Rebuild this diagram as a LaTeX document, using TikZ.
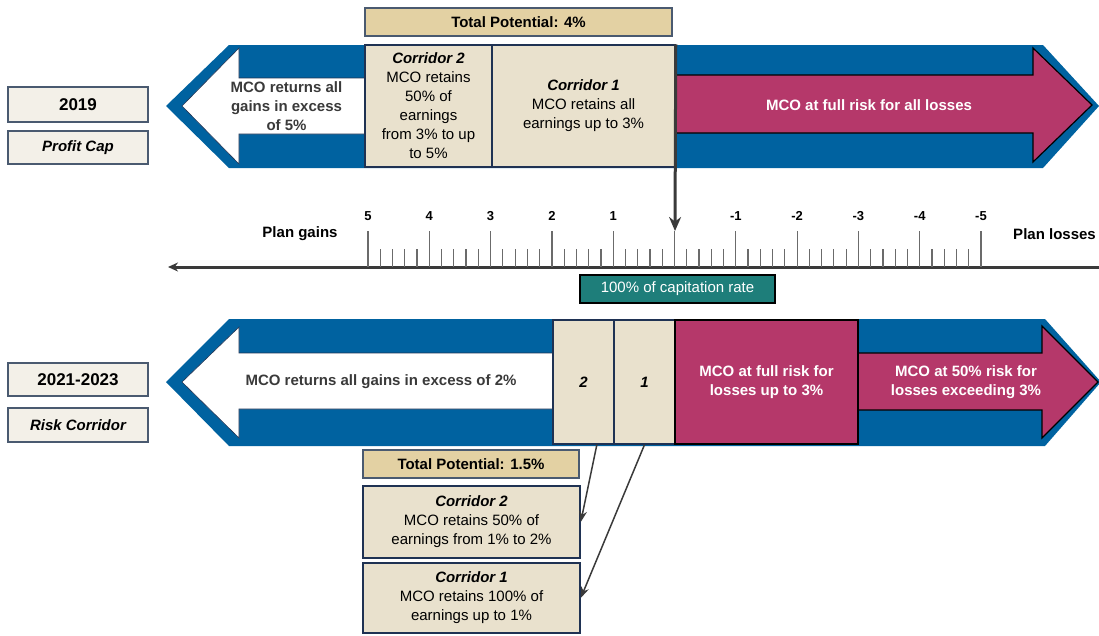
\documentclass[tikz,border=0pt]{standalone}
\usepackage{fontspec}
\setmainfont{Liberation Sans}
\usepackage{tikz}
\usetikzlibrary{arrows.meta}
\usetikzlibrary{positioning}

\definecolor{bandblue}{HTML}{0062A0}
\definecolor{riskred}{HTML}{B5386A}
\definecolor{corrfill}{HTML}{E9E1CD}
\definecolor{totalfill}{HTML}{E3D1A3}
\definecolor{yearfill}{HTML}{F3F0E8}
\definecolor{boxline}{HTML}{1F3253}
\definecolor{slate}{HTML}{4A5A70}
\definecolor{capteal}{HTML}{1E7E7A}
\definecolor{inkgray}{HTML}{3A3A3A}

\newcommand{\diagfont}{\fontsize{15}{19}\selectfont}
\newcommand{\yearfont}{\fontsize{17}{20}\selectfont}
\newcommand{\tickfont}{\fontsize{13}{15}\selectfont}

\tikzstyle{pointer} = [line width=1.5pt, draw=inkgray, -{Stealth[length=11pt,width=8pt]}]
\tikzstyle{yearbox} = [draw=slate, fill=yearfill, line width=1.5pt, minimum width=140pt, inner sep=0pt, font=\diagfont\bfseries]
\tikzstyle{corrbox} = [draw=boxline, fill=corrfill, line width=1.5pt, inner sep=0pt, align=center, font=\diagfont]
\tikzstyle{totalbox} = [draw=slate, fill=totalfill, line width=1.5pt, minimum height=28pt, inner sep=0pt, font=\diagfont\bfseries]
\tikzstyle{riskbox} = [draw=black, fill=riskred, line width=2pt, inner sep=0pt, align=center, text=white, font=\diagfont\bfseries]
\tikzstyle{risktext} = [align=center, text=white, font=\diagfont\bfseries]
\tikzstyle{gaintext} = [align=center, text=inkgray, font=\diagfont\bfseries]
\tikzstyle{ticklabel} = [font=\tickfont\bfseries]

\begin{document}
\begin{tikzpicture}[x=1pt,y=-1pt]
\useasboundingbox (0,0) rectangle (1099,635);

% Bands
\fill[bandblue] (166,106) -- (229,45) -- (1043,45) -- (1099,106) -- (1043,168) -- (229,168) -- cycle;
\fill[bandblue] (166,382) -- (229,319) -- (1045,319) -- (1101,382) -- (1045,446) -- (229,446) -- cycle;

% Arrows inside the bands
\filldraw[fill=white, draw=boxline, line width=0.6pt] (182,106) -- (239,48) -- (239,78) -- (365,78) -- (365,134) -- (239,134) -- (239,164) -- cycle;
\filldraw[fill=riskred, draw=black, line width=1.2pt] (675,75) -- (1033,75) -- (1033,48) -- (1092,105) -- (1033,162) -- (1033,133) -- (675,133);
\filldraw[fill=white, draw=boxline, line width=0.6pt] (182,382) -- (239,327) -- (239,353) -- (553,353) -- (553,409) -- (239,409) -- (239,438) -- cycle;
\filldraw[fill=riskred, draw=black, line width=1.2pt] (858,353) -- (1042,353) -- (1042,326) -- (1098,382) -- (1042,438) -- (1042,410) -- (858,410);

% Nodes: 2019
\node[yearbox, minimum height=35pt, font=\yearfont\bfseries] (y19) at (78,104.5) {2019};
\node[yearbox, minimum height=33pt] (pcap) at (78,147.5) {\itshape Profit Cap};
\node[totalbox, minimum width=307pt] (tp4) at (518.5,22) {Total Potential: 4\%};
\node[gaintext] (ret5) at (286.5,106) {MCO returns all\\gains in excess\\of 5\%};
\node[corrbox, minimum width=127pt, minimum height=122pt] (c2top) at (428.5,106) {\textbf{\textit{Corridor 2}}\\MCO retains\\50\% of\\earnings\\from 3\% to up\\to 5\%};
\node[corrbox, minimum width=183pt, minimum height=122pt] (c1top) at (583.5,106) {\textbf{\textit{Corridor 1}}\\MCO retains all\\earnings up to 3\%};
\node[risktext] (loss19) at (869,105) {MCO at full risk for all losses};

% Nodes: scale
\node[font=\diagfont\bfseries] (gains) at (300,234) {Plan gains};
\node[font=\diagfont\bfseries] (losses) at (1054.5,234) {Plan losses};
\node[draw=black, fill=capteal, line width=2pt, minimum width=195pt, minimum height=28pt, inner sep=0pt, text=white, font=\diagfont] (cap) at (677.5,289) {100\% of capitation rate};
\coordinate (zero) at (675,231);

% Nodes: 2021-2023
\node[yearbox, minimum height=33pt, font=\yearfont\bfseries] (y21) at (78,379.5) {2021-2023};
\node[yearbox, minimum height=34pt] (rcor) at (78,425) {\itshape Risk Corridor};
\node[gaintext] (ret2) at (381,382) {MCO returns all gains in excess of 2\%};
\node[corrbox, minimum width=61pt, minimum height=124pt] (b2) at (583.5,382) {\textbf{\textit{2}}};
\node[corrbox, minimum width=61pt, minimum height=124pt] (b1) at (644.5,382) {\textbf{\textit{1}}};
\node[riskbox, minimum width=183pt, minimum height=124pt] (full3) at (766.5,382) {MCO at full risk for\\losses up to 3\%};
\node[risktext] (half3) at (966,382) {MCO at 50\% risk for\\losses exceeding 3\%};
\node[totalbox, minimum width=216pt] (tp15) at (471,464) {Total Potential: 1.5\%};
\node[corrbox, minimum width=217pt, minimum height=72pt] (cb2) at (471.5,522) {\textbf{\textit{Corridor 2}}\\MCO retains 50\% of\\earnings from 1\% to 2\%};
\node[corrbox, minimum width=217pt, minimum height=70pt] (cb1) at (471.5,598) {\textbf{\textit{Corridor 1}}\\MCO retains 100\% of\\earnings up to 1\%};

% Scale
\draw[draw=inkgray, line width=3pt, {Stealth[length=10pt,width=9pt]}-] (168,267) -- (1099,267);
\foreach \j in {1,2,3,4,6,7,8,9,11,12,13,14,16,17,18,19,21,22,23,24,26,27,28,29,31,32,33,34,36,37,38,39,41,42,43,44,46,47,48,49}
  \draw[draw=inkgray!75, line width=1.2pt] (368+12.26*\j,249) -- (368+12.26*\j,267);
\foreach \lab [count=\k from 0] in {5,4,3,2,1,{},-1,-2,-3,-4,-5} {
  \draw[draw=inkgray!75, line width=1.2pt] (368+61.3*\k,231) -- (368+61.3*\k,267);
  \node[ticklabel] at (368+61.3*\k,216) {\lab};
}

% Edges
\draw[line width=3pt, draw=inkgray, -{Stealth[length=14pt,width=12pt]}] (c1top.north east) -- (zero);
\draw[pointer] (b2.282) -- (cb2.east);
\draw[pointer] (b1.south) -- (cb1.east);

\end{tikzpicture}
\end{document}
